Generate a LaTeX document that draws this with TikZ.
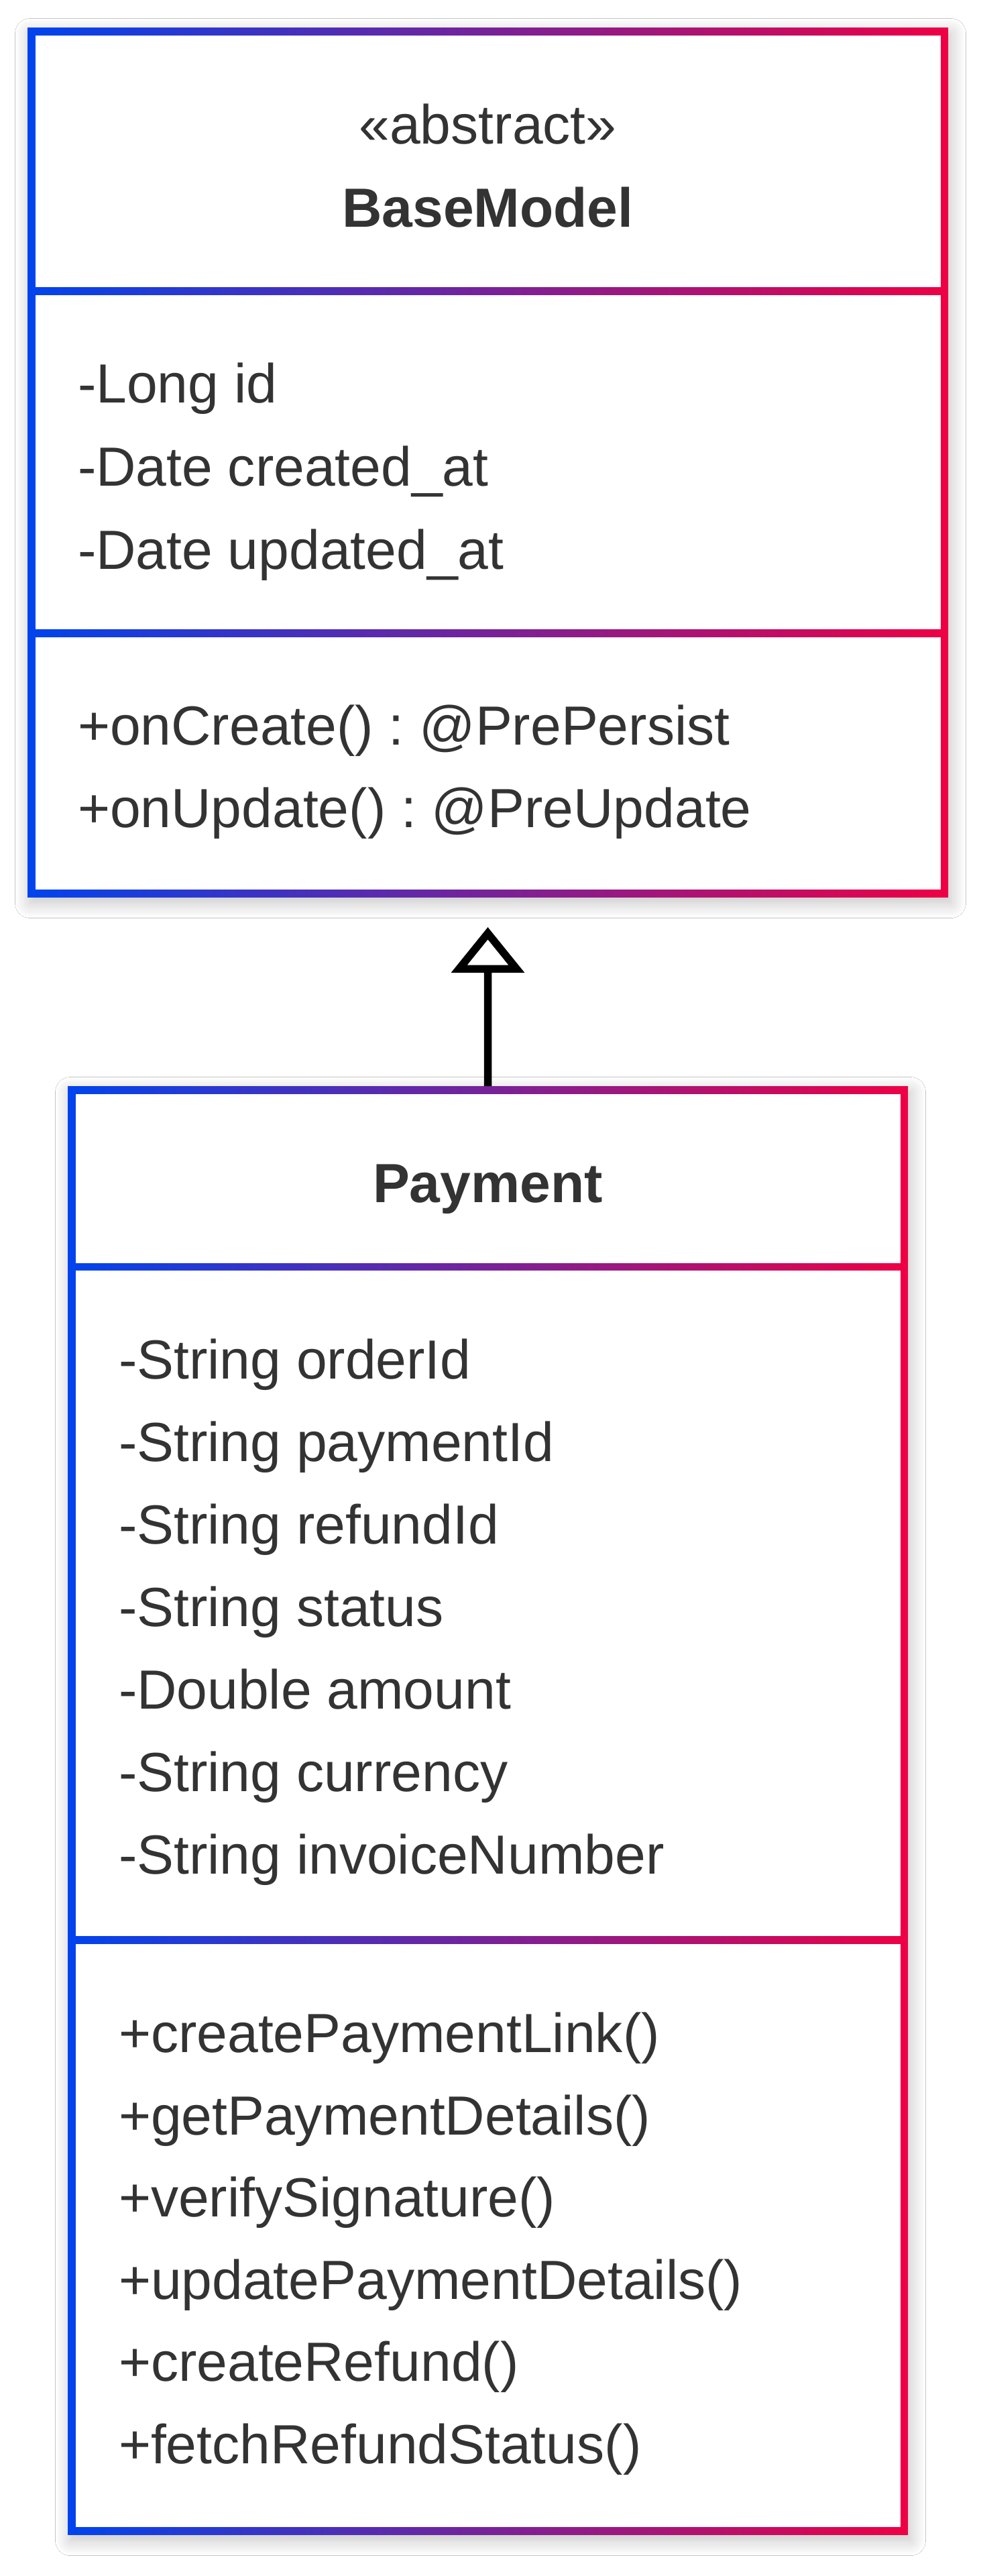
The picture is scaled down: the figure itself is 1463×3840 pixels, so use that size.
\documentclass[tikz,border=0pt]{standalone}
\usepackage{fontspec}
\setmainfont{Liberation Sans}
\usetikzlibrary{arrows.meta,shadows.blur}
\definecolor{cblue}{RGB}{0,68,238}
\definecolor{cred}{RGB}{238,0,68}
\definecolor{ctext}{HTML}{333333}
\frenchspacing
\tikzset{
  umlbox/.style={rectangle, inner sep=0pt, outer sep=0pt, left color=cblue, right color=cred, draw=none,
    blur shadow={shadow xshift=0.8pt, shadow yshift=-1.8pt, shadow blur radius=4.5pt, shadow blur steps=14, shadow opacity=24}},
  compart/.style={fill=white},
  member/.style={anchor=base west, inner sep=0pt, text=ctext, font=\fontsize{16.45}{19}\selectfont},
  titletext/.style={anchor=base, inner sep=0pt, text=ctext, font=\fontsize{16.45}{19}\selectfont},
  boldtitle/.style={titletext, font=\fontsize{16.45}{19}\selectfont\bfseries},
  inherit/.style={line width=2.3pt, draw=black, -{Triangle[open, length=13.6pt, width=21.4pt, fill=white]}, shorten >=9pt}
}
\begin{document}
\begin{tikzpicture}[x=0.2pt, y=-0.2pt]
\useasboundingbox (0,0) rectangle (1463,3840);
\fill[white] (0,0) rectangle (1463,3840);

% ---------- BaseModel ----------
\node[umlbox, anchor=north west, minimum width=274.6pt, minimum height=259.2pt] (base) at (41,41) {};
\fill[compart] (52.5,52.5) rectangle (1402.5,428.25);
\fill[compart] (52.5,439.75) rectangle (1402.5,938.25);
\fill[compart] (52.5,949.75) rectangle (1402.5,1325.5);

\node[titletext] (bstereo) at (727.5,214) {«abstract»};
\node[boldtitle] (bname) at (727.5,338) {BaseModel};
\node[member] (ba1) at (115,600) {-Long id};
\node[member] (ba2) at (115,724) {-Date created\_at};
\node[member] (ba3) at (115,848) {-Date updated\_at};
\node[member] (bm1) at (115,1110) {+onCreate() : @PrePersist};
\node[member] (bm2) at (115,1233) {+onUpdate() : @PreUpdate};

% ---------- Payment ----------
\node[umlbox, anchor=north west, minimum width=250.6pt, minimum height=431.8pt] (pay) at (101,1619) {};
\fill[compart] (112.5,1630.5) rectangle (1342.5,1882.75);
\fill[compart] (112.5,1894.25) rectangle (1342.5,2886.25);
\fill[compart] (112.5,2897.75) rectangle (1342.5,3766.5);

\node[boldtitle] (pname) at (727.5,1792) {Payment};
\node[member] (pa1) at (176,2055) {-String orderId};
\node[member] (pa2) at (176,2178) {-String paymentId};
\node[member] (pa3) at (176,2301) {-String refundId};
\node[member] (pa4) at (176,2424) {-String status};
\node[member] (pa5) at (176,2547) {-Double amount};
\node[member] (pa6) at (176,2670) {-String currency};
\node[member] (pa7) at (176,2793) {-String invoiceNumber};
\node[member] (pm1) at (176,3059) {+createPaymentLink()};
\node[member] (pm2) at (176,3182) {+getPaymentDetails()};
\node[member] (pm3) at (176,3304) {+verifySignature()};
\node[member] (pm4) at (176,3427) {+updatePaymentDetails()};
\node[member] (pm5) at (176,3549) {+createRefund()};
\node[member] (pm6) at (176,3672) {+fetchRefundStatus()};

% ---------- inheritance ----------
\draw[inherit] (pay.north) -- (base.south);
\end{tikzpicture}
\end{document}
